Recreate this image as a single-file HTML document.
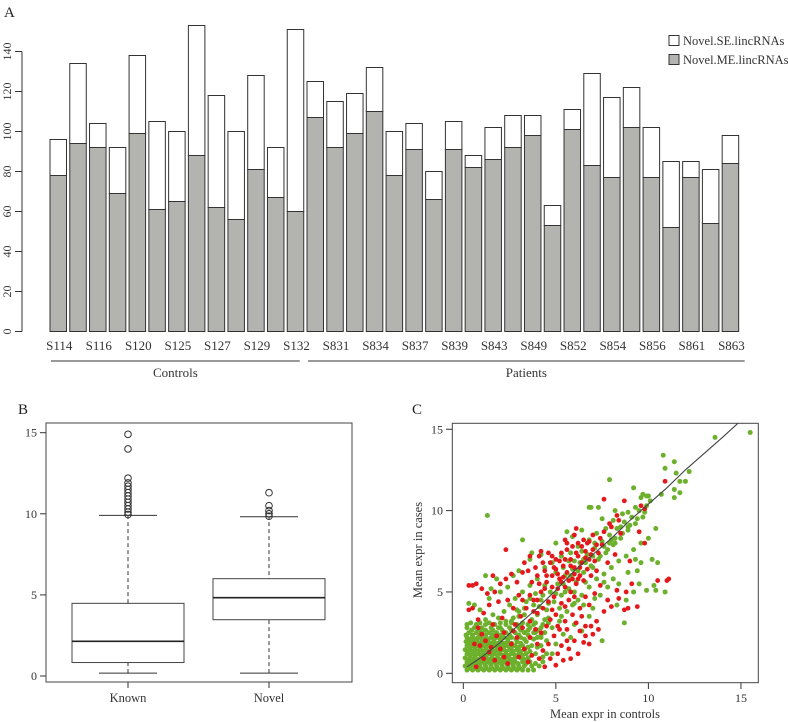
<!DOCTYPE html>
<html><head><meta charset="utf-8">
<style>
html,body{margin:0;padding:0;background:#fff;}
svg{display:block;font-family:"Liberation Serif",serif;}
</style></head>
<body>
<svg id="fig" width="788" height="722" viewBox="0 0 788 722" xmlns="http://www.w3.org/2000/svg">
  <g id="panelA"></g>
  <g id="panelB"></g>
  <g id="panelC"></g>
</svg>
<script>
// ---------- Panel A data ----------
const sampleNames = ["S114","S115","S116","S117","S120","S121","S125","S126","S127","S128","S129","S130","S132","S830","S831","S833","S834","S836","S837","S838","S839","S842","S843","S847","S849","S851","S852","S853","S854","S855","S856","S860","S861","S862","S863"];
const totalCounts = [96,134,104,92,138,105,100,153,118,100,128,92,151,125,115,119,132,100,104,80,105,88,102,108,108,63,111,129,117,122,102,85,85,81,98];
const meCounts = [78,94,92,69,99,61,65,88,62,56,81,67,60,107,92,99,110,78,91,66,91,82,86,92,98,53,101,83,77,102,77,52,77,54,84];
const yTicksA = [0,20,40,60,80,100,120,140];
const groupNames = ["Controls","Patients"];
const groupSizes = [13,22];

// ---------- Panel B data ----------
const boxCategories = ["Known","Novel"];
const boxLowWhisker = [0.18,0.18];
const boxQ1 = [0.83,3.47];
const boxMedian = [2.14,4.83];
const boxQ3 = [4.48,6.0];
const boxHighWhisker = [9.9,9.82];
const knownOutliers = [14.9,14.0,12.2,11.9,11.7,11.5,11.3,11.1,10.9,10.7,10.5,10.3,10.1,9.95];
const novelOutliers = [11.3,10.5,10.2,10.0,9.85];
const yTicksB = [0,5,10,15];

// ---------- Panel C data ----------
const greenPoints = [
[0.2,0.2],[0.5,0.2],[0.8,0.2],[1.1,0.2],[1.4,0.2],[1.7,0.2],[2.0,0.2],[2.3,0.2],[2.6,0.2],[2.9,0.2],[3.2,0.2],[3.5,0.2],[3.8,0.2],
[0.1,0.45],[0.35,0.45],[0.6,0.45],[0.9,0.45],[1.2,0.45],[1.5,0.45],[1.8,0.45],[2.1,0.45],[2.4,0.45],[2.7,0.45],[3.0,0.45],[3.3,0.45],[3.7,0.45],[4.1,0.45],
[0.2,0.7],[0.45,0.7],[0.7,0.7],[1.0,0.7],[1.3,0.7],[1.6,0.7],[1.9,0.7],[2.2,0.7],[2.5,0.7],[2.8,0.7],[3.2,0.7],[3.6,0.7],[4.3,0.7],
[0.1,0.95],[0.4,0.95],[0.65,0.95],[0.95,0.95],[1.25,0.95],[1.55,0.95],[1.85,0.95],[2.15,0.95],[2.45,0.95],[2.8,0.95],[3.1,0.95],[3.5,0.95],
[0.2,1.2],[0.5,1.2],[0.8,1.2],[1.1,1.2],[1.4,1.2],[1.7,1.2],[2.0,1.2],[2.3,1.2],[2.6,1.2],[3.0,1.2],[3.4,1.2],[3.9,1.2],[4.5,1.2],
[0.1,1.45],[0.35,1.45],[0.6,1.45],[0.9,1.45],[1.2,1.45],[1.5,1.45],[1.8,1.45],[2.1,1.45],[2.5,1.45],[2.9,1.45],[3.3,1.45],
[0.2,1.7],[0.5,1.7],[0.8,1.7],[1.1,1.7],[1.4,1.7],[1.7,1.7],[2.0,1.7],[2.4,1.7],[2.8,1.7],[3.2,1.7],[3.7,1.7],[4.2,1.7],
[0.15,1.95],[0.45,1.95],[0.75,1.95],[1.05,1.95],[1.35,1.95],[1.65,1.95],[2.0,1.95],[2.4,1.95],[2.9,1.95],[3.4,1.95],
[0.2,2.2],[0.5,2.2],[0.8,2.2],[1.2,2.2],[1.5,2.2],[1.8,2.2],[2.2,2.2],[2.6,2.2],[3.1,2.2],[3.6,2.2],[4.0,2.2],
[0.3,2.5],[0.7,2.5],[1.0,2.5],[1.4,2.5],[1.8,2.5],[2.3,2.5],[2.8,2.5],[3.3,2.5],[3.8,2.5],[4.4,2.5],
[0.2,2.8],[0.6,2.8],[1.0,2.8],[1.5,2.8],[1.9,2.8],[2.5,2.8],[3.0,2.8],[3.6,2.8],[4.2,2.8],
[0.4,3.1],[0.9,3.1],[1.4,3.1],[2.0,3.1],[2.6,3.1],[3.2,3.1],[3.9,3.1],[4.6,3.1],
[0.35,0.3],[0.65,0.3],[0.95,0.3],[1.25,0.3],[1.55,0.3],[1.85,0.3],[2.15,0.3],[2.45,0.3],[2.75,0.3],[3.05,0.3],
[0.3,0.6],[0.55,0.6],[0.85,0.6],[1.15,0.6],[1.45,0.6],[1.75,0.6],[2.05,0.6],[2.35,0.6],[2.65,0.6],[2.95,0.6],[3.4,0.6],
[0.3,0.85],[0.55,0.85],[0.85,0.85],[1.15,0.85],[1.45,0.85],[1.75,0.85],[2.05,0.85],[2.35,0.85],[2.65,0.85],[3.3,0.85],
[0.35,1.1],[0.65,1.1],[0.95,1.1],[1.25,1.1],[1.55,1.1],[1.85,1.1],[2.15,1.1],[2.45,1.1],[2.8,1.1],[3.2,1.1],
[0.25,1.35],[0.5,1.35],[0.75,1.35],[1.05,1.35],[1.35,1.35],[1.65,1.35],[1.95,1.35],[2.3,1.35],[2.7,1.35],[3.1,1.35],[3.6,1.35],
[0.35,1.6],[0.65,1.6],[0.95,1.6],[1.25,1.6],[1.55,1.6],[1.85,1.6],[2.2,1.6],[2.6,1.6],[3.0,1.6],[3.5,1.6],[4.0,1.6],
[0.3,1.85],[0.6,1.85],[0.9,1.85],[1.2,1.85],[1.5,1.85],[1.8,1.85],[2.2,1.85],[2.6,1.85],[3.1,1.85],
[0.35,2.1],[0.65,2.1],[1.0,2.1],[1.35,2.1],[1.65,2.1],[2.0,2.1],[2.4,2.1],[2.85,2.1],[3.3,2.1],[3.8,2.1],
[0.15,2.35],[0.5,2.35],[0.9,2.35],[1.2,2.35],[1.6,2.35],[2.0,2.35],[2.5,2.35],[3.0,2.35],[3.5,2.35],[4.2,2.35],
[0.45,2.65],[0.85,2.65],[1.2,2.65],[1.6,2.65],[2.1,2.65],[2.6,2.65],[3.1,2.65],[3.5,2.65],[4.0,2.65],
[0.2,3.0],[0.7,3.0],[1.2,3.0],[1.7,3.0],[2.3,3.0],[2.9,3.0],[3.5,3.0],[4.3,3.0],
[3.0,3.5],[3.3,4.0],[3.5,3.0],[3.8,4.2],[4.0,3.6],[4.2,4.5],[4.5,3.9],[4.7,5.0],[4.9,4.4],[5.1,5.5],[5.3,4.8],[5.5,6.0],[5.7,5.2],[5.9,6.4],[6.1,5.6],[6.3,6.8],[6.5,6.2],[6.7,7.3],[6.9,6.6],[7.1,7.7],[7.3,7.0],[7.5,8.1],[7.7,7.4],[7.9,8.5],[8.1,7.9],[8.3,8.9],[8.5,8.3],[8.7,9.3],[8.9,8.8],[9.1,9.6],[9.3,9.2],[9.5,10.0],[9.7,9.6],[9.9,10.3],[10.1,10.6],[9.6,10.8],[9.9,10.9],[8.2,10.0],[7.5,9.5],[7.2,8.6],[6.8,8.2],[6.2,7.8],[5.8,7.4],[5.3,7.2],[4.8,6.8],[4.4,6.5],[4.0,5.8],[3.6,5.4],[3.2,5.0],[2.8,4.6],[2.5,4.2],[2.2,3.8],[1.9,3.4],[1.6,3.6],[1.2,3.3],[0.9,3.9],[0.6,4.2],[0.3,4.3],[1.4,4.6],[1.8,5.8],[1.2,6.0],[2.4,5.3],[3.0,6.3],[3.6,7.0],[4.2,7.3],[5.0,8.0],[5.6,8.7],[6.8,10.2],[7.3,10.2],[8.0,8.2],[8.6,9.8],
[4.5,2.0],[4.8,2.8],[5.2,3.2],[5.6,3.8],[6.0,4.3],[6.4,4.8],[6.8,5.3],[7.2,5.8],[7.6,6.1],[8.0,6.5],[8.4,6.9],[8.8,7.2],[9.2,7.6],[9.6,8.0],[10.0,8.3],[10.4,8.9],[9.3,7.0],[9.6,6.8],[9.4,6.3],[9.5,5.5],[9.9,5.1],[10.4,5.1],[10.2,7.0],[9.2,5.0],[8.8,4.5],[8.3,4.2],[7.8,5.3],[7.4,4.8],[8.7,3.1],[7.5,2.0],[6.8,3.5],[6.2,4.5],[5.5,5.0],[6.0,5.0],[6.6,5.6],[5.2,4.0],[4.6,3.4],[3.9,2.5],[4.3,1.0],[5.0,1.8],[5.8,2.2],[6.4,2.6],[3.5,1.6],[2.5,0.9],[7.0,4.0],[8.1,5.8],[5.0,6.2],[5.4,6.5],[6.0,6.9],[6.5,7.0],[7.0,7.2],[7.6,7.8],[8.2,8.3],[8.9,9.0],[4.3,4.8],[3.9,4.9],[3.4,4.4],[2.9,3.9],[2.6,3.2],[3.1,2.9],[5.9,8.4],[6.4,8.8],[1.3,9.7],[3.2,8.2],[3.7,7.4],[2.0,5.0],[1.5,5.2],[2.7,6.0],
[3.3,3.6],[3.7,3.3],[4.1,4.1],[4.4,3.3],[4.6,4.3],[5.0,4.9],[5.4,5.5],[5.8,6.0],[6.2,6.3],[6.6,6.8],[7.0,6.5],[7.4,7.2],[7.8,7.6],[8.2,8.0],[8.6,8.6],[9.0,9.1],[9.4,9.5],[9.8,9.9],[8.9,9.9],[9.3,10.2],[8.5,9.0],[7.9,8.0],[7.1,8.0],[3.8,3.0],[4.2,2.2],[3.3,2.5],[3.0,3.8],[2.7,3.4],[2.3,3.2],[2.0,2.8],[5.3,3.5],[5.9,4.2],[6.5,4.2],[7.1,4.6],[7.6,5.6],[8.4,5.5],[8.9,6.2],[3.6,4.6],[4.4,5.4],[5.7,6.9],[6.4,7.5],[7.7,8.9],[8.1,9.4],[4.8,1.2],[3.9,0.6],[5.4,2.4],[6.0,3.0],
[10.8,13.4],[11.4,13.0],[10.9,12.6],[11.5,12.3],[11.7,11.8],[12.0,11.8],[12.2,12.4],[11.4,11.3],[11.4,10.8],[11.7,11.1],[10.7,11.0],[13.6,14.5],[15.5,14.8],[7.9,11.9],[9.2,11.4],[9.7,11.0],[10.0,10.9],[6.9,10.2],[10.5,6.8],[10.9,5.0],[10.3,5.4]
];
const redPoints = [
[4.2,5.0],[4.5,5.6],[4.8,6.0],[5.0,6.4],[5.2,5.8],[5.4,6.6],[5.6,6.2],[5.8,7.0],[6.0,6.5],[6.2,7.2],[6.4,6.8],[6.6,7.5],[6.8,7.0],[7.0,7.6],[4.4,6.3],[4.7,6.8],[5.0,7.0],[5.3,7.4],[5.6,7.6],[5.9,7.8],[6.2,8.0],[6.5,8.2],[4.0,6.0],[3.7,5.6],[3.5,6.3],[3.3,6.8],[4.1,7.2],[4.6,7.4],[5.5,5.3],[5.9,5.8],[6.3,6.0],[6.7,6.4],[7.1,6.9],[7.3,7.4],[7.5,7.9],[7.0,8.5],[7.6,8.7],[8.0,9.0],[8.4,9.4],[8.7,10.6],[7.6,10.7],[9.6,10.3],[9.8,10.1],[10.9,11.8],[9.5,8.7],[8.5,8.6],[5.1,5.2],[4.9,4.7],[4.6,4.4],[4.3,4.0],[4.0,3.7],[3.8,4.5],[3.4,4.0],[3.1,3.5],[2.8,3.0],[3.6,3.2],[5.8,5.0],[6.1,5.5],[6.5,5.7],[6.9,6.0],[7.2,6.3],[7.4,5.4],[6.6,4.7],[6.3,4.0],[5.9,3.6],[5.5,3.2],[5.2,2.7],[4.9,2.3],[4.6,1.8],[4.3,1.4],[4.1,0.9],[4.4,0.4],[4.7,0.9],[5.1,1.2],[5.4,0.8],[5.7,1.5],[6.0,2.0],[6.3,2.6],[6.6,2.3],[6.9,2.9],[7.2,3.2],[7.6,3.8],[8.0,4.1],[8.4,4.6],[8.8,5.0],[8.9,4.0],[8.7,3.9],[9.1,5.5],[9.4,4.1],[9.0,6.9],[9.8,8.0],[11.0,5.7],[11.1,5.8],[10.5,5.7],[7.8,6.8],[8.2,7.3],[3.0,1.0],[3.3,1.5],[3.6,2.2],[3.9,2.7],[2.6,1.8],[2.2,2.5],[2.0,1.5],[1.8,2.3],[1.5,1.6],[1.2,2.0],[0.9,1.7],[0.6,1.8],[2.4,0.6],[1.7,0.8],[1.1,0.9],[0.7,0.4],[3.5,0.7],[2.9,2.2],[1.4,4.2],[1.1,3.7],[0.8,3.3],[0.5,4.0],[0.3,5.4],[0.5,5.4],[0.7,5.5],[1.0,5.2],[1.3,4.9],[1.7,5.0],[2.0,5.5],[2.3,5.8],[2.6,6.1],[2.9,5.6],[2.3,7.6],[1.6,6.0],[1.9,4.4],[2.4,4.5],[2.7,4.0],[3.0,4.8],[3.2,6.2],[3.6,7.2],[4.2,7.5],[4.8,7.2],[5.5,8.2],[6.0,8.5],[6.8,8.1],[7.9,9.2],[8.3,9.7],[0.3,3.9],[0.8,2.8],[1.6,3.0],[2.1,3.4],[5.0,3.6],[5.3,4.3],[5.7,4.5],[4.5,2.9],[4.2,2.5],[6.8,1.8],[7.0,2.4],[6.2,1.2],[5.8,0.9],[6.5,1.9],[4.8,3.9],[3.8,3.8],
[4.5,6.0],[4.9,6.5],[5.2,6.9],[5.5,7.0],[5.8,6.6],[6.1,7.4],[6.4,7.8],[6.7,8.0],[6.9,7.3],[5.1,6.1],[5.4,5.9],[5.7,5.7],[6.0,6.1],[6.3,6.5],[4.8,5.3],[4.4,5.2],[4.1,5.5],[3.9,6.5],[4.3,6.8],[5.6,8.0],[6.1,8.9],[6.6,7.1],[7.2,7.9],[7.4,8.3],[5.3,5.6],[6.2,5.8],[4.0,4.5],[3.6,4.8],[3.2,4.5],[4.7,3.3],[5.1,2.9],[5.6,2.7],[6.1,3.1],[6.4,3.5],[6.8,4.2],[7.1,4.9],[5.3,1.7],[5.0,0.5],[5.6,2.0],[6.6,2.9],[4.0,1.8],[3.7,1.1],[2.7,2.6],[3.2,2.8],[6.0,4.7],[5.5,4.1],[7.3,2.7],[7.8,4.5],[8.3,5.1],[2.2,1.0],[1.4,1.3],[1.0,2.4]
];
const fitX = [0.2,1,2,3,4,5,6,7,8,9,10,11,12,13,14,14.84];
const fitY = [0.4,1.0,1.9,3.0,4.0,5.1,6.3,7.3,8.3,9.4,10.4,11.4,12.5,13.5,14.5,15.37];
const ticksC = [0,5,10,15];

const NS = "http://www.w3.org/2000/svg";
function mk(tag, attrs, parent, text){
  const e = document.createElementNS(NS, tag);
  for (const k in attrs) e.setAttribute(k, attrs[k]);
  if (text !== undefined) e.textContent = text;
  parent.appendChild(e);
  return e;
}

// ---------- Panel A ----------
(function(){
  const g = document.getElementById('panelA');
  const y0 = 331.5, pxPer = 2.0;
  const yA = v => y0 - v*pxPer;
  const x0 = 50, pitch = 19.77, bw = 16.5;
  const xA = i => x0 + i*pitch;
  let t = mk('text',{x:4,y:17,'font-size':15,fill:'#222'},g,'A');
  
  
  let ax = mk('line',{x1:22,y1:yA(0),x2:22,y2:yA(140),stroke:'#333','stroke-width':1},g);
  
  
  yTicksA.forEach(v=>{
    mk('line',{x1:15,y1:yA(v),x2:22,y2:yA(v),stroke:'#333'},g);
    const tl = mk('text',{x:0,y:0,'font-size':12,fill:'#333','text-anchor':'middle',transform:`translate(11,${yA(v)}) rotate(-90)`},g,String(v));
    
    
  });
  sampleNames.forEach((name,i)=>{
    const x = xA(i);
    const me = mk('rect',{x:x,y:yA(meCounts[i]),width:bw,height:meCounts[i]*pxPer,fill:'#b3b3b0',stroke:'#333','stroke-width':1},g);
    
    
    const se = mk('rect',{x:x,y:yA(totalCounts[i]),width:bw,height:(totalCounts[i]-meCounts[i])*pxPer,fill:'#fff',stroke:'#333','stroke-width':1},g);
    
    
    if (i%2===0){
      const lb = mk('text',{x:x+bw/2+1,y:350,'font-size':13,fill:'#333','text-anchor':'middle'},g,name);
      
      
    }
  });
  let start = 0;
  groupNames.forEach((gn,k)=>{
    const a = xA(start)+1, b = xA(start+groupSizes[k]-1)+bw+ (k===0?-4:6);
    const ln = mk('line',{x1:a,y1:361,x2:b,y2:361,stroke:'#333'},g);
    
    
    const gt = mk('text',{x:(a+b)/2,y:377,'font-size':13,fill:'#333','text-anchor':'middle'},g,gn);
    
    
    start += groupSizes[k];
  });
  const leg = mk('g',{},g);
  
  
  let r1 = mk('rect',{x:669,y:35.5,width:10,height:10,fill:'#fff',stroke:'#333'},leg);
  
  
  let l1 = mk('text',{x:683,y:45,'font-size':12.5,fill:'#333'},leg,'Novel.SE.lincRNAs');
  
  
  let r2 = mk('rect',{x:669,y:54.5,width:10,height:10,fill:'#b3b3b0',stroke:'#333'},leg);
  
  
  let l2 = mk('text',{x:683,y:64,'font-size':12.5,fill:'#333'},leg,'Novel.ME.lincRNAs');
  
  
})();

// ---------- Panel B ----------
(function(){
  const g = document.getElementById('panelB');
  const y0 = 676, pxPer = 16.22;
  const yB = v => y0 - v*pxPer;
  const centers = [128,269];
  const xB = i => centers[i];
  let t = mk('text',{x:18,y:414,'font-size':15,fill:'#222'},g,'B');
  
  
  let fr = mk('rect',{x:46,y:423,width:306,height:259,fill:'none',stroke:'#444'},g);
  
  
  yTicksB.forEach(v=>{
    mk('line',{x1:40,y1:yB(v),x2:46,y2:yB(v),stroke:'#333'},g);
    const tl = mk('text',{x:37,y:yB(v)+4,'font-size':12,fill:'#333','text-anchor':'end'},g,String(v));
    
    
  });
  boxCategories.forEach((c,i)=>{
    const cx = xB(i), hw = 56, cw = 29;
    mk('line',{x1:cx,y1:682,x2:cx,y2:688,stroke:'#333'},g);
    const lb = mk('text',{x:cx,y:702,'font-size':12.5,fill:'#333','text-anchor':'middle'},g,c);
    
    
    const wk = mk('line',{x1:cx,y1:yB(boxLowWhisker[i]),x2:cx,y2:yB(boxHighWhisker[i]),stroke:'#333','stroke-dasharray':'4,3'},g);
    
    
    mk('line',{x1:cx-cw,y1:yB(boxLowWhisker[i]),x2:cx+cw,y2:yB(boxLowWhisker[i]),stroke:'#333'},g);
    mk('line',{x1:cx-cw,y1:yB(boxHighWhisker[i]),x2:cx+cw,y2:yB(boxHighWhisker[i]),stroke:'#333'},g);
    const bx = mk('rect',{x:cx-hw,y:yB(boxQ3[i]),width:2*hw,height:(boxQ3[i]-boxQ1[i])*pxPer,fill:'#fff',stroke:'#444'},g);
    
    
    const md = mk('line',{x1:cx-hw,y1:yB(boxMedian[i]),x2:cx+hw,y2:yB(boxMedian[i]),stroke:'#222','stroke-width':1.6},g);
    
    
    const outs = i===0 ? knownOutliers : novelOutliers;
    outs.forEach(v=>{
      const o = mk('circle',{cx:cx,cy:yB(v),r:3.3,fill:'none',stroke:'#333'},g);
      
      
    });
  });
})();

// ---------- Panel C ----------
(function(){
  const g = document.getElementById('panelC');
  const xC = v => 463.3 + v*18.51;
  const yC = v => 673.3 - v*16.27;
  let t = mk('text',{x:412,y:414,'font-size':15,fill:'#222'},g,'C');
  
  
  const defs = mk('defs',{},g);
  const cp = mk('clipPath',{id:'clipC'},defs);
  mk('rect',{x:452,y:423,width:306,height:260},cp);
  ticksC.forEach(v=>{
    mk('line',{x1:446,y1:yC(v),x2:452,y2:yC(v),stroke:'#333'},g);
    const yl = mk('text',{x:443,y:yC(v)+4,'font-size':12,fill:'#333','text-anchor':'end'},g,String(v));
    
    
    mk('line',{x1:xC(v),y1:683,x2:xC(v),y2:689,stroke:'#333'},g);
    const xl = mk('text',{x:xC(v),y:702,'font-size':12,fill:'#333','text-anchor':'middle'},g,String(v));
    
    
  });
  const xt = mk('text',{x:605,y:718,'font-size':12.5,fill:'#333','text-anchor':'middle'},g,'Mean expr in controls');
  
  
  const yt = mk('text',{x:0,y:0,'font-size':12.5,fill:'#333','text-anchor':'middle',transform:'translate(422,550) rotate(-90)'},g,'Mean expr in cases');
  
  
  const pts = mk('g',{'clip-path':'url(#clipC)'},g);
  
  
  greenPoints.forEach(p=>{
    const c = mk('circle',{cx:xC(p[0]),cy:yC(p[1]),r:2.5,fill:'#6cb02c'},pts);
    
    
  });
  redPoints.forEach(p=>{
    const c = mk('circle',{cx:xC(p[0]),cy:yC(p[1]),r:2.4,fill:'#e3191c'},pts);
    
    
  });
  let d = fitX.map((x,i)=>(i?'L':'M')+xC(x).toFixed(1)+','+yC(fitY[i]).toFixed(1)).join(' ');
  const fl = mk('path',{d:d,fill:'none',stroke:'#444','stroke-width':1.1,'clip-path':'url(#clipC)'},g);
  
  
  const fr = mk('rect',{x:452.3,y:423.3,width:306,height:259.4,fill:'none',stroke:'#444'},g);
  
  
})();
</script>
</body></html>
